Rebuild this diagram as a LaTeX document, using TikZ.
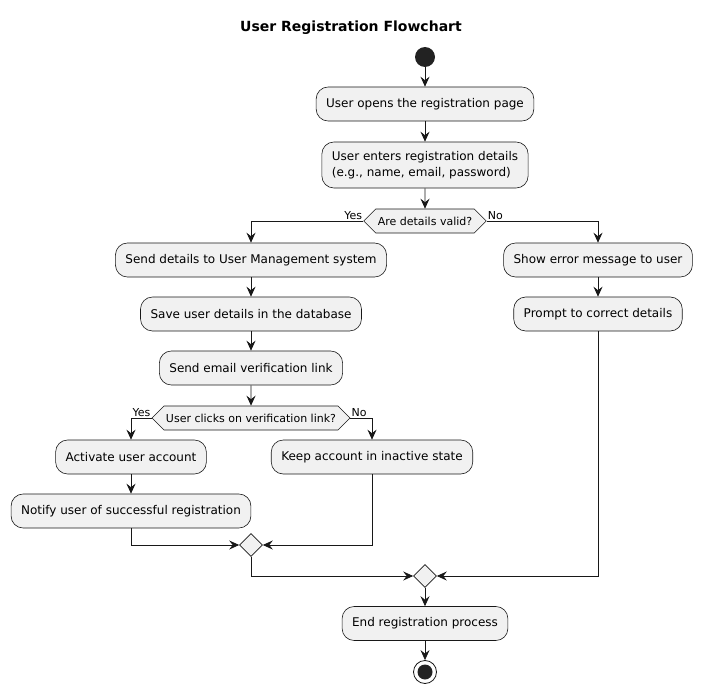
\documentclass[tikz,border=0pt]{standalone}
\usepackage{fontspec}
\setmainfont{DejaVu Sans}
\usetikzlibrary{arrows.meta,shapes.geometric,shapes.symbols}
\definecolor{boxfill}{HTML}{F1F1F1}
\definecolor{edge}{HTML}{181818}
\definecolor{dot}{HTML}{222222}
\begin{document}
\begin{tikzpicture}[x=1pt,y=-1pt,
  act/.style={draw=edge,fill=boxfill,line width=0.6pt,rounded corners=12pt,
    minimum height=34pt,inner xsep=10pt,align=left,font=\fontsize{12}{15.5}\selectfont},
  test/.style={draw=edge,fill=boxfill,line width=0.6pt,shape=signal,signal to=east and west,
    signal pointer angle=90,minimum height=24pt,inner xsep=2pt,inner ysep=1pt,font=\fontsize{11}{13}\selectfont},
  merge/.style={draw=edge,fill=boxfill,line width=0.6pt,diamond,minimum size=23pt,inner sep=0pt},
  lbl/.style={font=\fontsize{11}{13}\selectfont,inner sep=1pt},
  flow/.style={draw=edge,line width=0.8pt,-{Stealth[length=10pt,width=9pt,inset=3.5pt]}}]
\useasboundingbox (0,0) rectangle (702,693);
\node[font=\fontsize{14}{16}\selectfont\bfseries] (title) at (351,28) {User Registration Flowchart};
\node[circle,fill=dot,minimum size=20pt,inner sep=0pt] (start) at (425,57) {};
\node[act] (open) at (425,104) {User opens the registration page};
\node[act,minimum height=46pt] (enter) at (425,165) {User enters registration details\\(e.g., name, email, password)};
\node[test] (valid) at (425,221) {Are details valid?};
% yes branch
\node[act] (send) at (251,260) {Send details to User Management system};
\node[act] (save) at (251,314) {Save user details in the database};
\node[act] (mail) at (251,368) {Send email verification link};
\node[test] (click) at (251,418) {User clicks on verification link?};
\node[act] (activate) at (131,457) {Activate user account};
\node[act] (notify) at (131,511) {Notify user of successful registration};
\node[act] (keep) at (372,457) {Keep account in inactive state};
\node[merge] (join1) at (251,545) {};
% no branch
\node[act] (error) at (598,260) {Show error message to user};
\node[act] (prompt) at (598,314) {Prompt to correct details};
\node[merge] (join2) at (425,576) {};
\node[act] (finish) at (425,623.5) {End registration process};
\node[circle,draw=edge,fill=white,line width=0.8pt,minimum size=23pt,inner sep=0pt] (stop) at (425,672) {};
\node[circle,fill=dot,minimum size=15pt,inner sep=0pt] at (stop) {};
% connectors
\draw[flow] (start) -- (open);
\draw[flow] (open) -- (enter);
\draw[flow] (enter) -- (valid);
\draw[flow] (valid.west) -| (send.north);
\node[lbl,anchor=south east] at (valid.west) {Yes};
\draw[flow] (valid.east) -| (error.north);
\node[lbl,anchor=south west] at (valid.east) {No};
\draw[flow] (send) -- (save);
\draw[flow] (save) -- (mail);
\draw[flow] (mail) -- (click);
\draw[flow] (click.west) -| (activate.north);
\node[lbl,anchor=south east] at (click.west) {Yes};
\draw[flow] (click.east) -| (keep.north);
\node[lbl,anchor=south west] at (click.east) {No};
\draw[flow] (activate) -- (notify);
\draw[flow] (notify.south) |- (join1.west);
\draw[flow] (keep.south) |- (join1.east);
\draw[flow] (error) -- (prompt);
\draw[flow] (join1.south) |- (join2.west);
\draw[flow] (prompt.south) |- (join2.east);
\draw[flow] (join2) -- (finish);
\draw[flow] (finish) -- (stop);
\end{tikzpicture}
\end{document}
